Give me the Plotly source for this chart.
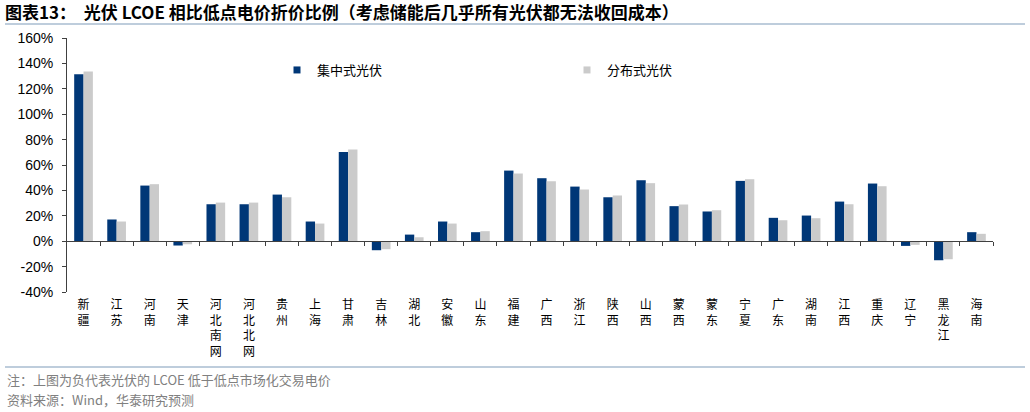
import plotly.graph_objects as go

provinces = ["新疆", "江苏", "河南", "天津", "河北南网", "河北北网", "贵州", "上海", "甘肃", "吉林",
             "湖北", "安徽", "山东", "福建", "广西", "浙江", "陕西", "山西", "蒙西", "蒙东",
             "宁夏", "广东", "湖南", "江西", "重庆", "辽宁", "黑龙江", "海南"]
centralized = [131.5, 17.1, 43.8, -3.4, 29.1, 29.1, 36.7, 15.5, 70.3, -7.1,
               5.2, 15.5, 7.1, 55.6, 49.6, 43.0, 34.6, 48.0, 27.6, 23.4,
               47.5, 18.4, 20.2, 31.2, 45.4, -3.7, -15.0, 7.1]
distributed = [133.6, 15.5, 44.9, -2.4, 30.4, 30.4, 34.6, 13.9, 72.2, -6.3,
               3.1, 13.9, 7.9, 53.3, 47.2, 40.7, 36.0, 45.7, 28.9, 24.4,
               48.8, 16.5, 18.1, 29.1, 43.3, -2.9, -14.2, 5.8]
series_names = ["集中式光伏", "分布式光伏"]
y_tick_vals = [-40, -20, 0, 20, 40, 60, 80, 100, 120, 140, 160]
y_tick_text = ["-40%", "-20%", "0%", "20%", "40%", "60%", "80%", "100%", "120%", "140%", "160%"]
title_text = "图表13：  光伏 LCOE 相比低点电价折价比例（考虑储能后几乎所有光伏都无法收回成本）"
note_text = "注：上图为负代表光伏的 LCOE 低于低点市场化交易电价"
source_text = "资料来源：Wind，华泰研究预测"

BLUE = "#003777"
GRAY = "#cbcbcb"
AXIS = "#404040"
CJK = "Noto Sans CJK SC"

W, H = 1030, 412
ML, MR, MT, MB = 67, 37, 38, 120
PW, PH = W - ML - MR, H - MT - MB

def px_x(px):
    return (px - ML) / PW

def px_y(py):
    return (H - MB - py) / PH

vertical_labels = ["<br>".join(list(p)) for p in provinces]
idx = list(range(len(provinces)))

fig = go.Figure()
fig.add_trace(go.Bar(x=idx, y=centralized, name=series_names[0], marker_color=BLUE,
                     marker_line_width=0, showlegend=False))
fig.add_trace(go.Bar(x=idx, y=distributed, name=series_names[1], marker_color=GRAY,
                     marker_line_width=0, showlegend=False))
# legend entries (small square markers)
for name, col in zip(series_names, [BLUE, GRAY]):
    fig.add_trace(go.Scatter(x=[None], y=[None], mode="markers", name=name,
                             marker=dict(symbol="square", size=7, color=col),
                             xaxis="x2", showlegend=True))

fig.update_layout(
    width=W, height=H,
    margin=dict(l=ML, r=MR, t=MT, b=MB),
    paper_bgcolor="white", plot_bgcolor="white",
    barmode="group", bargap=0.435, bargroupgap=0,
    font=dict(family=CJK, color="black"),
    title=dict(text="<b>" + title_text + "</b>", x=5 / W, xref="container", xanchor="left",
               y=1 - 13 / H, yref="container", yanchor="middle",
               font=dict(family=CJK, size=17, color="black")),
    xaxis=dict(range=[-0.5, len(provinces) - 0.5], tickmode="array", tickvals=idx,
               ticktext=vertical_labels, showline=False, ticks="", showgrid=False,
               zeroline=False, tickangle=0, ticklabelstandoff=4,
               tickfont=dict(family=CJK, size=12, color="black")),
    xaxis2=dict(overlaying="x", anchor="free", position=0.2, side="bottom",
                range=[-0.5, len(provinces) - 0.5], tickmode="array",
                tickvals=[i + 0.5 for i in idx], showticklabels=False,
                ticks="outside", ticklen=4, tickcolor=AXIS, tickwidth=1,
                showline=True, linecolor=AXIS, linewidth=1,
                showgrid=False, zeroline=False),
    yaxis=dict(range=[-40, 160], tickmode="array", tickvals=y_tick_vals, ticktext=y_tick_text,
               showline=True, linecolor=AXIS, linewidth=1, ticks="outside", ticklen=4,
               tickcolor=AXIS, showgrid=False, zeroline=False, ticklabelstandoff=6,
               tickfont=dict(family="Liberation Sans", size=14, color="black")),
    legend=dict(orientation="h", x=px_x(277), xanchor="left", y=px_y(70), yanchor="middle",
                entrywidth=245, font=dict(family=CJK, size=13, color="black"),
                bgcolor="rgba(0,0,0,0)", itemsizing="trace"),
    shapes=[
        dict(type="line", xref="paper", yref="paper", x0=px_x(5), x1=px_x(1025),
             y0=px_y(24), y1=px_y(24), line=dict(color="#a9bcd0", width=1.5)),
        dict(type="line", xref="paper", yref="paper", x0=px_x(5), x1=px_x(1025),
             y0=px_y(367), y1=px_y(367), line=dict(color="#a9bcd0", width=1.5)),
    ],
    annotations=[
        dict(text=note_text, xref="paper", yref="paper", x=px_x(5), y=px_y(379),
             xanchor="left", yanchor="middle", showarrow=False,
             font=dict(family=CJK, size=13, color="#808080")),
        dict(text=source_text, xref="paper", yref="paper", x=px_x(5), y=px_y(399),
             xanchor="left", yanchor="middle", showarrow=False,
             font=dict(family=CJK, size=13, color="#808080")),
    ],
)

fig.write_html("out.html")
